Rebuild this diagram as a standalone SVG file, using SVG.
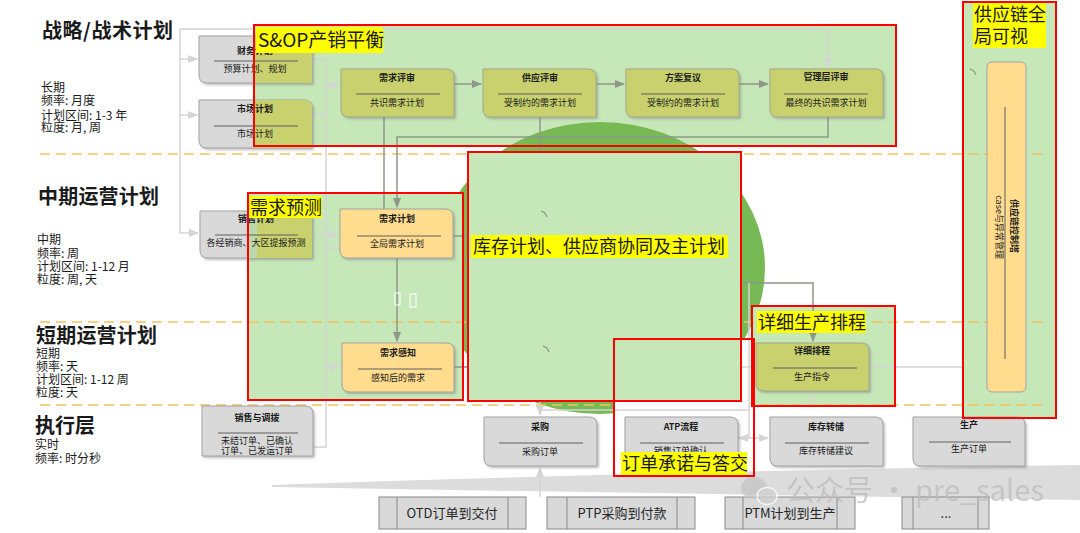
<svg xmlns="http://www.w3.org/2000/svg" width="1080" height="533" viewBox="0 0 1080 533">
<style>
text{font-family:"Noto Sans CJK SC","Liberation Sans",sans-serif;fill:#1a1a1a}
.h{font-size:20px;font-weight:bold}
.m{font-size:12px}
.t{font-size:9px;font-weight:bold;text-anchor:middle}
.s{font-size:9px;text-anchor:middle}
.big{font-size:18px}
.gray{fill:#d9d9d9;stroke:#a3a3a3;stroke-width:1}
.olive{fill:#c8d16e;stroke:#a3a88a;stroke-width:1}
.orange{fill:#ffdc8e;stroke:#a3a3a3;stroke-width:1}
.sep{stroke:#5e5e5e;stroke-width:1}
.frame{fill:#c6e7b8}
.red{fill:none;stroke:#ff0000;stroke-width:2}
.hl{fill:#ffff00}
.dash{stroke:#f5c15c;stroke-width:1.6;stroke-dasharray:10 6;fill:none}
.lc{fill:none;stroke:#d4d4d4;stroke-width:1.5}
.dc{fill:none;stroke:#8f978a;stroke-width:1.5}
.proc{fill:#d9d9d9;stroke:#8a8a8a;stroke-width:1}
.pt{font-size:13px;text-anchor:middle;fill:#262626}
</style>
<defs>
<marker id="al" viewBox="0 0 10 10" refX="9" refY="5" markerWidth="7" markerHeight="7" orient="auto-start-reverse"><path d="M0,1 L10,5 L0,9 Z" fill="#d4d4d4"/></marker>
<marker id="ad" viewBox="0 0 10 10" refX="9" refY="5" markerWidth="7" markerHeight="7" orient="auto-start-reverse"><path d="M0,1 L10,5 L0,9 Z" fill="#8f978a"/></marker>
<filter id="sh" x="-10%" y="-10%" width="130%" height="140%"><feDropShadow dx="1.5" dy="1.5" stdDeviation="0.8" flood-color="#7a7a7a" flood-opacity="0.5"/></filter>
<clipPath id="c1"><path d="M199,36 H304 Q312,36 312,44 V83 H207 Q199,83 199,75 Z"/></clipPath>
<clipPath id="c2"><path d="M199,100 H304 Q312,100 312,108 V148 H207 Q199,148 199,140 Z"/></clipPath>
<clipPath id="c3"><path d="M200,211 H304 Q312,211 312,219 V258 H208 Q200,258 200,250 Z"/></clipPath>
</defs>

<!-- big frames (fills) -->
<rect class="frame" x="254" y="25" width="642" height="121"/>
<ellipse cx="600" cy="268" rx="165" ry="146" fill="#77b955"/>
<rect class="frame" x="248" y="193" width="215" height="207"/>
<rect class="frame" x="752" y="306" width="143" height="100"/>
<rect class="frame" x="963" y="2" width="93" height="416"/>

<!-- level separators -->
<g id="separators">
<path class="dash" d="M40,154 H1045"/>
<path class="dash" d="M40,322 H1045"/>
<path class="dash" d="M40,405 H1045"/>
</g>

<rect x="614" y="339" width="140" height="137" fill="#ffffff"/>
<rect class="frame" x="468" y="152" width="273" height="249"/>

<!-- bottom swoosh -->
<path d="M272,485 Q650,472 1080,465 L1080,500 Q700,494 272,487 Z" fill="#dcdcdc"/>

<!-- connectors -->
<g id="connectors">
<path class="lc" d="M180,29 H828 V67" marker-end="url(#al)"/>
<path class="lc" d="M180,29 V233"/>
<path class="lc" d="M180,59 H197" marker-end="url(#al)"/>
<path class="lc" d="M180,115 H197" marker-end="url(#al)"/>
<path class="lc" d="M180,233 H198" marker-end="url(#al)"/>
<path class="lc" d="M312,59 H326 M312,114 H326 M326,59 V447 H313"/>
<path class="lc" d="M326,85 H339" marker-end="url(#al)"/>
<path class="lc" d="M312,235 H338" marker-end="url(#al)"/>
<path class="lc" d="M326,249 H340"/>
<path class="lc" d="M326,367 H340" marker-end="url(#al)"/>
<path class="dc" d="M454,84 H481" marker-end="url(#ad)"/>
<path class="dc" d="M597,84 H624" marker-end="url(#ad)"/>
<path class="dc" d="M739,84 H768" marker-end="url(#ad)"/>
<path class="dc" d="M384,117 V209"/>
<path class="dc" d="M828,117 V137 H397 V207" marker-end="url(#ad)"/>
<path class="dc" d="M540,117 V152"/>
<path class="dc" d="M397,258 V341" marker-end="url(#ad)"/>
<path class="dc" d="M453,236 H468 M454,367 H468"/>
<path class="dc" d="M741,283 H813 V341" marker-end="url(#ad)"/>
<path class="lc" d="M813,391 V406"/>
<path class="lc" d="M749,283 V410 H540"/>
<path class="lc" d="M741,367 H963"/>
<path class="lc" d="M540,401 V415" marker-end="url(#al)"/>
<path class="lc" d="M749,410 V438"/>
<path class="lc" d="M739,438 H768" marker-start="url(#al)" marker-end="url(#al)"/>
<path class="lc" d="M540,497 V468" marker-end="url(#al)"/>
</g>

<!-- left level labels -->
<g id="levels">
<text class="h" x="42" y="38" textLength="131" lengthAdjust="spacing">战略/战术计划</text>
<text class="m" x="41" y="92">长期</text>
<text class="m" x="41" y="105">频率: 月度</text>
<text class="m" x="41" y="120">计划区间: 1-3 年</text>
<text class="m" x="41" y="132">粒度: 月, 周</text>
<text class="h" x="38" y="204" textLength="121" lengthAdjust="spacing">中期运营计划</text>
<text class="m" x="37" y="244">中期</text>
<text class="m" x="37" y="258">频率: 周</text>
<text class="m" x="37" y="271">计划区间: 1-12 月</text>
<text class="m" x="37" y="284">粒度: 周, 天</text>
<text class="h" x="36" y="343" textLength="121" lengthAdjust="spacing">短期运营计划</text>
<text class="m" x="36" y="358">短期</text>
<text class="m" x="36" y="371">频率: 天</text>
<text class="m" x="36" y="384">计划区间: 1-12 周</text>
<text class="m" x="36" y="397">粒度: 天</text>
<text class="h" x="35" y="433">执行层</text>
<text class="m" x="35" y="449">实时</text>
<text class="m" x="35" y="463">频率: 时分秒</text>
</g>

<!-- gray input nodes -->
<g id="n-caiwu">
<path class="gray" filter="url(#sh)" d="M199,36 H304 Q312,36 312,44 V83 H207 Q199,83 199,75 Z"/>
<rect x="254" y="30" width="60" height="58" fill="#c8d16e" clip-path="url(#c1)"/>
<text class="t" x="255" y="54">财务计划</text><path class="sep" d="M214,61 H298"/><text class="s" x="255" y="72">预算计划、规划</text>
</g>
<g id="n-shichang">
<path class="gray" filter="url(#sh)" d="M199,100 H304 Q312,100 312,108 V148 H207 Q199,148 199,140 Z"/>
<rect x="254" y="95" width="60" height="58" fill="#c8d16e" clip-path="url(#c2)"/>
<text class="t" x="255" y="112">市场计划</text><path class="sep" d="M214,126 H298"/><text class="s" x="255" y="137">市场计划</text>
</g>
<g id="n-xiaoshou">
<path class="gray" filter="url(#sh)" d="M200,211 H304 Q312,211 312,219 V258 H208 Q200,258 200,250 Z"/>
<rect x="248" y="205" width="10" height="58" fill="#bcd9ab" clip-path="url(#c3)"/>
<rect x="257" y="205" width="57" height="58" fill="#c8d16e" clip-path="url(#c3)"/>
<text class="t" x="256" y="222">销售计划</text><path class="sep" d="M215,235 H298"/><text class="s" x="256" y="246">各经销商、大区提报预测</text>
</g>
<g id="n-xiaoshoudiaobo">
<path class="gray" filter="url(#sh)" d="M202,406 H305 Q313,406 313,414 V456 H202 Z"/>
<text class="t" x="257" y="421">销售与调拨</text><path class="sep" d="M218,433 H298"/><text class="s" x="257" y="444">未结订单、已确认</text><text class="s" x="257" y="454">订单、已发运订单</text>
</g>

<!-- S&OP nodes -->
<g id="n-xuqiupingshen">
<path class="olive" filter="url(#sh)" d="M341,69 H446 Q454,69 454,77 V117 H349 Q341,117 341,109 Z"/>
<text class="t" x="397" y="81">需求评审</text><path class="sep" d="M356,94 H440"/><text class="s" x="397" y="106">共识需求计划</text>
</g>
<g id="n-gongyingpingshen">
<path class="olive" filter="url(#sh)" d="M483,69 H588 Q596,69 596,77 V117 H491 Q483,117 483,109 Z"/>
<text class="t" x="540" y="81">供应评审</text><path class="sep" d="M498,94 H582"/><text class="s" x="540" y="106">受制约的需求计划</text>
</g>
<g id="n-fangan">
<path class="olive" filter="url(#sh)" d="M626,69 H731 Q739,69 739,77 V117 H634 Q626,117 626,109 Z"/>
<text class="t" x="683" y="81">方案复议</text><path class="sep" d="M641,94 H725"/><text class="s" x="683" y="106">受制约的需求计划</text>
</g>
<g id="n-guanli">
<path class="olive" filter="url(#sh)" d="M770,69 H875 Q883,69 883,77 V117 H778 Q770,117 770,109 Z"/>
<text class="t" x="826" y="80">管理层评审</text><path class="sep" d="M784,94 H868"/><text class="s" x="826" y="106">最终的共识需求计划</text>
</g>

<!-- demand nodes -->
<g id="n-xuqiujihua">
<path class="orange" filter="url(#sh)" d="M340,209 H445 Q453,209 453,217 V258 H348 Q340,258 340,250 Z"/>
<text class="t" x="397" y="222">需求计划</text><path class="sep" d="M357,236 H441"/><text class="s" x="397" y="247">全局需求计划</text>
</g>
<g id="n-xuqiuganzhi">
<path class="orange" filter="url(#sh)" d="M342,343 H446 Q454,343 454,351 V392 H350 Q342,392 342,384 Z"/>
<text class="t" x="398" y="356">需求感知</text><path class="sep" d="M358,369 H442"/><text class="s" x="398" y="381">感知后的需求</text>
</g>
<g id="n-xiangxipaicheng">
<path class="olive" filter="url(#sh)" d="M756,343 H861 Q869,343 869,351 V391 H764 Q756,391 756,383 Z"/>
<text class="t" x="812" y="354">详细排程</text><path class="sep" d="M773,368 H857"/><text class="s" x="812" y="380">生产指令</text>
</g>

<!-- execution nodes -->
<g id="n-caigou">
<path class="gray" filter="url(#sh)" d="M484,417 H589 Q597,417 597,425 V466 H492 Q484,466 484,458 Z"/>
<text class="t" x="540" y="430">采购</text><path class="sep" d="M499,443 H583"/><text class="s" x="540" y="455">采购订单</text>
</g>
<g id="n-atp">
<path class="gray" filter="url(#sh)" d="M625,417 H730 Q738,417 738,425 V466 H633 Q625,466 625,458 Z"/>
<text class="t" x="681" y="430">ATP流程</text><path class="sep" d="M640,443 H724"/><text class="s" x="681" y="454">销售订单确认</text>
</g>
<g id="n-kucun">
<path class="gray" filter="url(#sh)" d="M770,417 H875 Q883,417 883,425 V466 H778 Q770,466 770,458 Z"/>
<text class="t" x="826" y="430">库存转储</text><path class="sep" d="M785,443 H869"/><text class="s" x="826" y="454">库存转储建议</text>
</g>
<g id="n-shengchan">
<path class="gray" filter="url(#sh)" d="M913,417 H1017 Q1025,417 1025,425 V466 H921 Q913,466 913,458 Z"/>
<text class="t" x="969" y="428">生产</text><path class="sep" d="M929,442 H1011"/><text class="s" x="969" y="452">生产订单</text>
</g>

<!-- control tower -->
<g id="n-tower">
<rect x="987" y="62" width="39" height="330" rx="5" class="orange"/>
<path class="sep" d="M1005,107 V359"/>
<text class="t" transform="translate(1011,226) rotate(90)">供应链控制塔</text>
<text class="s" transform="translate(996,227) rotate(90)">case与异常管理</text>
</g>

<!-- process bars -->
<g id="processes">
<rect class="proc" x="379" y="497" width="147" height="32"/><path class="proc" d="M397,497 V529 M508,497 V529"/><text class="pt" x="452" y="518">OTD订单到交付</text>
<rect class="proc" x="547" y="497" width="148" height="32"/><path class="proc" d="M567,497 V529 M677,497 V529"/><text class="pt" x="622" y="518">PTP采购到付款</text>
<rect class="proc" x="725" y="497" width="130" height="32"/><path class="proc" d="M743,497 V529 M837,497 V529"/><text class="pt" x="790" y="518">PTM计划到生产</text>
<rect class="proc" x="902" y="497" width="87" height="32"/><path class="proc" d="M913,497 V529 M978,497 V529"/><text class="pt" x="946" y="518">...</text>
</g>

<!-- small artifacts -->
<g fill="none" stroke="#7a7a7a" stroke-width="1">
<path d="M541,211 Q546,212 547,217"/>
<path d="M543,346 Q548,347 549,352"/>
<path d="M970,69 Q975,70 976,75"/>
</g>
<g fill="none" stroke="#ffffff" stroke-width="1">
<rect x="395" y="293" width="5" height="12"/>
<rect x="410" y="294" width="6" height="13"/>
</g>

<!-- red frames and labels -->
<g id="frame-sop">
<rect class="red" x="254" y="25" width="642" height="121"/>
<rect class="hl" x="256" y="27" width="127" height="26"/>
<text x="258" y="47" style="font-size:19px">S&amp;OP产销平衡</text>
</g>
<g id="frame-forecast">
<rect class="red" x="248" y="193" width="215" height="207"/>
<rect class="hl" x="249" y="196" width="73" height="22"/>
<text class="big" x="250" y="214">需求预测</text>
</g>
<g id="frame-inventory">
<rect class="red" x="468" y="152" width="273" height="249"/>
<rect class="hl" x="471" y="235" width="257" height="23"/>
<text class="big" x="473" y="253">库存计划、供应商协同及主计划</text>
</g>
<g id="frame-scheduling">
<rect class="red" x="752" y="306" width="143" height="100"/>
<rect class="hl" x="757" y="311" width="109" height="22"/>
<text class="big" x="758" y="329">详细生产排程</text>
</g>
<g id="frame-atp">
<rect class="red" x="614" y="339" width="140" height="137"/>
<rect class="hl" x="621" y="452" width="126" height="23"/>
<text class="big" x="622" y="470">订单承诺与答交</text>
</g>
<g id="frame-visibility">
<rect class="red" x="963" y="2" width="93" height="416"/>
<rect class="hl" x="973" y="3" width="73" height="45"/>
<text class="big" x="974" y="21">供应链全</text>
<text class="big" x="974" y="43">局可视</text>
</g>

<!-- watermark -->
<g id="watermark" opacity="0.75">
<ellipse cx="754" cy="488" rx="13" ry="11" fill="#c4c4c4"/>
<ellipse cx="767" cy="496" rx="10" ry="8.5" fill="#cfcfcf" stroke="#ffffff" stroke-width="1.5"/>
<text x="786" y="501" style="font-size:29px;fill:#bdbdbd">公众号 · pre_sales</text>
</g>
</svg>
